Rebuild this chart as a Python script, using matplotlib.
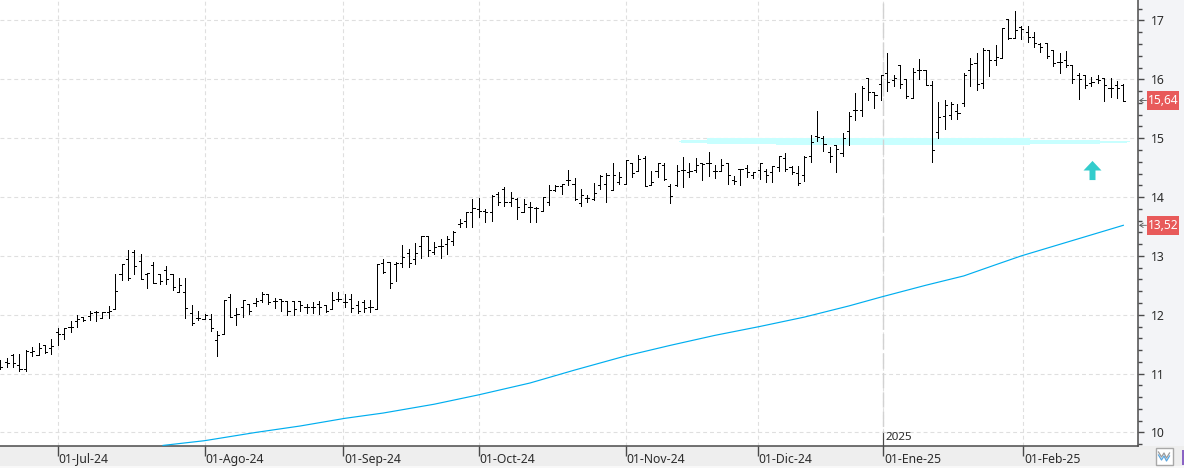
import matplotlib
matplotlib.use('Agg')
import matplotlib.pyplot as plt
from matplotlib.patches import Rectangle
from matplotlib.lines import Line2D
from matplotlib.ticker import MultipleLocator
from matplotlib.path import Path

W, H = 1184, 468
plt.rcParams['font.family'] = ['Noto Sans', 'DejaVu Sans']

#OHLC, one value per session
opens = [11.20, 11.20, 11.32, 11.14, 11.07, 11.37, 11.31, 11.49, 11.43, 11.71,
         11.67, 11.79, 11.90, 11.97, 11.98, 12.05, 11.94, 12.04, 12.09, 12.69,
         12.94, 13.06, 12.92, 12.70, 12.85, 12.70, 12.76, 12.70, 12.39, 12.39,
         12.03, 11.94, 11.93, 11.93, 11.57, 11.67, 12.30, 11.99, 12.13, 12.19,
         12.20, 12.25, 12.35, 12.23, 12.26, 12.24, 12.24, 12.23, 12.13, 12.13,
         12.19, 12.17, 12.09, 12.26, 12.21, 12.27, 12.16, 12.22, 12.14, 12.09,
         12.88, 12.89, 12.86, 12.88, 13.05, 12.95, 13.17, 13.33, 13.07, 13.16,
         13.21, 13.25, 13.55, 13.60, 13.75, 13.80, 13.76, 13.75, 14.06, 14.14,
         13.92, 13.97, 13.74, 13.83, 13.81, 13.76, 13.92, 14.12, 14.19, 14.29,
         14.23, 13.90, 13.98, 13.96, 14.21, 14.23, 14.12, 14.25, 14.23, 14.57,
         14.45, 14.67, 14.20, 14.45, 14.54, 14.18, 14.21, 14.46, 14.43, 14.46,
         14.58, 14.57, 14.44, 14.44, 14.57, 14.29, 14.48, 14.50, 14.37, 14.46,
         14.45, 14.42, 14.51, 14.66, 14.51, 14.41, 14.38, 14.69, 15.03, 15.00,
         14.76, 14.89, 14.75, 15.12, 15.48, 15.48, 16.03, 15.78, 15.92, 16.10,
         15.99, 16.24, 16.00, 15.69, 16.16, 16.16, 15.90, 15.11, 15.37, 15.40,
         15.47, 15.59, 16.16, 16.27, 15.93, 16.50, 16.33, 16.36, 17.02, 16.71,
         16.89, 16.80, 16.72, 16.60, 16.61, 16.50, 16.30, 16.33, 16.24, 16.07,
         16.07, 15.93, 16.00, 16.02, 15.86, 15.90, 15.90]
highs = [11.23, 11.26, 11.33, 11.33, 11.40, 11.46, 11.52, 11.49, 11.58, 11.78,
         11.78, 11.90, 11.99, 11.97, 12.07, 12.07, 12.04, 12.15, 12.69, 12.87,
         13.10, 13.10, 13.03, 12.71, 12.89, 12.70, 12.82, 12.70, 12.63, 12.63,
         12.16, 12.06, 12.01, 12.01, 11.73, 12.25, 12.36, 12.12, 12.25, 12.19,
         12.29, 12.38, 12.35, 12.29, 12.26, 12.24, 12.24, 12.24, 12.19, 12.21,
         12.23, 12.17, 12.38, 12.38, 12.35, 12.35, 12.23, 12.25, 12.25, 12.86,
         12.94, 12.89, 12.89, 13.19, 13.12, 13.22, 13.33, 13.33, 13.24, 13.29,
         13.33, 13.42, 13.63, 13.75, 13.97, 13.98, 13.80, 14.04, 14.08, 14.17,
         14.08, 13.98, 13.97, 13.92, 13.83, 14.00, 14.21, 14.21, 14.22, 14.46,
         14.33, 14.14, 14.03, 14.24, 14.37, 14.41, 14.58, 14.43, 14.63, 14.57,
         14.72, 14.69, 14.45, 14.58, 14.58, 14.23, 14.55, 14.68, 14.58, 14.66,
         14.58, 14.77, 14.55, 14.64, 14.57, 14.36, 14.48, 14.55, 14.43, 14.58,
         14.48, 14.53, 14.70, 14.75, 14.53, 14.53, 14.69, 15.06, 15.46, 15.03,
         14.85, 14.89, 15.08, 15.45, 15.76, 15.89, 16.03, 15.78, 16.07, 16.44,
         16.07, 16.24, 16.00, 16.20, 16.34, 16.16, 15.98, 15.62, 15.65, 15.61,
         15.58, 16.10, 16.36, 16.44, 16.54, 16.50, 16.58, 16.88, 17.02, 17.16,
         16.90, 16.90, 16.80, 16.61, 16.61, 16.50, 16.44, 16.48, 16.25, 16.10,
         16.07, 16.04, 16.07, 16.03, 16.02, 15.98, 15.92]
lows = [11.08, 11.12, 11.12, 11.05, 11.04, 11.30, 11.31, 11.35, 11.34, 11.48,
        11.58, 11.70, 11.79, 11.90, 11.91, 11.90, 11.94, 11.95, 12.09, 12.59,
        12.59, 12.70, 12.60, 12.46, 12.54, 12.53, 12.53, 12.42, 12.39, 11.94,
        11.83, 11.91, 11.92, 11.73, 11.30, 11.67, 11.96, 11.83, 11.96, 12.01,
        12.15, 12.21, 12.18, 12.11, 12.07, 12.00, 12.00, 12.07, 12.03, 12.03,
        12.02, 12.05, 12.09, 12.23, 12.13, 12.05, 12.03, 12.05, 12.05, 12.09,
        12.71, 12.46, 12.58, 12.81, 12.81, 12.87, 12.97, 12.99, 13.03, 12.96,
        13.03, 13.18, 13.49, 13.49, 13.49, 13.66, 13.57, 13.60, 13.87, 13.84,
        13.84, 13.62, 13.74, 13.57, 13.57, 13.76, 13.86, 14.10, 14.06, 14.20,
        13.95, 13.85, 13.92, 13.95, 14.13, 13.92, 14.12, 14.23, 14.23, 14.34,
        14.45, 14.19, 14.20, 14.34, 14.29, 13.90, 14.19, 14.17, 14.34, 14.43,
        14.29, 14.36, 14.32, 14.44, 14.23, 14.23, 14.20, 14.34, 14.32, 14.30,
        14.25, 14.25, 14.44, 14.45, 14.40, 14.21, 14.28, 14.59, 14.96, 14.79,
        14.59, 14.42, 14.69, 14.89, 15.31, 15.37, 15.65, 15.52, 15.65, 15.81,
        15.88, 15.86, 15.69, 15.68, 16.00, 15.90, 14.59, 15.01, 15.15, 15.32,
        15.32, 15.54, 15.89, 15.82, 15.86, 16.06, 16.24, 16.36, 16.68, 16.71,
        16.68, 16.63, 16.55, 16.47, 16.37, 16.23, 16.11, 16.21, 15.94, 15.67,
        15.86, 15.89, 15.93, 15.64, 15.70, 15.69, 15.64]
closes = [11.12, 11.18, 11.18, 11.08, 11.39, 11.39, 11.43, 11.37, 11.47, 11.67,
          11.78, 11.79, 11.93, 11.91, 12.03, 12.04, 12.04, 12.07, 12.41, 12.87,
          12.63, 12.83, 12.60, 12.71, 12.54, 12.58, 12.61, 12.47, 12.50, 12.11,
          11.86, 11.94, 12.00, 11.78, 11.66, 12.25, 11.97, 12.02, 12.25, 12.07,
          12.23, 12.36, 12.21, 12.23, 12.23, 12.07, 12.09, 12.17, 12.14, 12.13,
          12.13, 12.07, 12.25, 12.26, 12.21, 12.12, 12.07, 12.12, 12.14, 12.86,
          12.72, 12.54, 12.88, 12.98, 12.88, 13.05, 13.33, 13.10, 13.15, 13.16,
          13.29, 13.40, 13.56, 13.75, 13.81, 13.77, 13.75, 14.02, 13.91, 13.91,
          13.99, 13.83, 13.88, 13.83, 13.81, 14.00, 14.12, 14.18, 14.22, 14.29,
          13.96, 14.03, 13.98, 14.07, 14.36, 14.37, 14.38, 14.34, 14.63, 14.41,
          14.64, 14.19, 14.26, 14.58, 14.30, 14.01, 14.45, 14.46, 14.45, 14.54,
          14.56, 14.58, 14.45, 14.55, 14.37, 14.27, 14.48, 14.42, 14.42, 14.58,
          14.38, 14.53, 14.69, 14.47, 14.42, 14.24, 14.68, 14.93, 15.02, 14.90,
          14.69, 14.81, 15.01, 15.38, 15.48, 15.86, 15.78, 15.73, 16.07, 15.95,
          16.02, 15.92, 15.71, 16.12, 16.16, 15.90, 14.80, 15.36, 15.56, 15.58,
          15.42, 16.08, 16.26, 15.92, 16.50, 16.33, 16.38, 16.88, 16.71, 16.84,
          16.86, 16.72, 16.61, 16.55, 16.40, 16.27, 16.30, 16.25, 16.00, 16.01,
          15.90, 15.95, 15.99, 15.90, 15.86, 15.86, 15.64]

#long moving average
ma_idx = [25.5, 32, 40, 47, 54, 60, 68, 75, 83, 90, 98, 105, 112, 119, 126, 133, 138, 145, 151, 156, 160, 168, 176]
ma_val = [9.78, 9.86, 10.00, 10.11, 10.24, 10.33, 10.48, 10.64, 10.84, 11.06, 11.30,
          11.48, 11.65, 11.80, 11.96, 12.15, 12.30, 12.50, 12.66, 12.85, 13.00, 13.26, 13.52]

#support band, stepped
band_idx = [106.3, 106.7, 110.8, 121.6, 161.4, 172.3, 176.5, 177.1]
band_top = [14.95, 14.97, 15.00, 15.00, 14.97, 14.96, 14.95]
band_bot = [14.94, 14.92, 14.90, 14.88, 14.905, 14.92, 14.94]

month_pos = [9.0, 32.0, 53.7, 74.95, 98.0, 118.7, 138.4, 160.3]
month_labels = ['01-Jul-24', '01-Ago-24', '01-Sep-24', '01-Oct-24', '01-Nov-24', '01-Dic-24', '01-Ene-25', '01-Feb-25']
year_pos = 138.4
year_label = '2025'
y_ticks = [10, 11, 12, 13, 14, 15, 16, 17]

arrow_idx = 171.1
arrow_price = 14.46

def px(x, y):
    return x / W, 1 - y / H

fig = plt.figure(figsize=(W / 100, H / 100), dpi=100, facecolor='#f8f8f8')
ax = fig.add_axes([0, 1 - 446 / H, 1138 / W, 446 / H], facecolor='white')
ax.set_xlim(-0.05, 178.3)
ax.set_ylim(9.77, 17.348)

#panels around the plot
fig.add_artist(Rectangle(px(1138, 446), 46 / W, 446 / H, transform=fig.transFigure, fc='#f3f4f7', ec='none', zorder=-5))
fig.add_artist(Rectangle(px(0, 466), 1, 20 / H, transform=fig.transFigure, fc='#eeeeee', ec='none', zorder=-5))

ax.grid(True, which='major', color='#dfdfdf', lw=0.8, ls=(0, (3.5, 2.7)))
ax.set_axisbelow(True)

for s in ['top', 'left']:
    ax.spines[s].set_visible(False)
for s in ['right', 'bottom']:
    ax.spines[s].set_color('#4a4a4a')
    ax.spines[s].set_linewidth(1.1)

ax.fill_between(band_idx, band_top + [band_top[-1]], band_bot + [band_bot[-1]],
                step='post', color='#c8ffff', lw=0, zorder=1.5)

#year separator
ax.axvline(year_pos, color='#d2d2d2', lw=1.0, ls=(0, (11, 3)), zorder=1.8)

idx = list(range(len(closes)))
ax.vlines(idx, lows, highs, color='black', lw=0.7, antialiased=False, zorder=3)
ax.hlines(opens, [i - 0.33 for i in idx], idx, color='black', lw=0.7, antialiased=False, zorder=3)
ax.hlines(closes, idx, [i + 0.33 for i in idx], color='black', lw=0.7, antialiased=False, zorder=3)

ax.plot(ma_idx, ma_val, color='#00aeef', lw=0.85, zorder=3)

#up arrow marker
arrow = Path([(0, 8), (7.5, 0), (2.5, 0), (2.5, -8), (-2.5, -8), (-2.5, 0), (-7.5, 0), (0, 8)], closed=True)
ax.scatter([arrow_idx], [arrow_price], marker=arrow, s=190, color='#33cccc', lw=0, zorder=4)

ax.yaxis.tick_right()
ax.set_yticks(y_ticks)
ax.yaxis.set_minor_locator(MultipleLocator(0.2))
ax.tick_params(axis='y', which='major', length=4.5, width=1, color='#4a4a4a', pad=4.5, labelsize=8.8, labelcolor='#2b2b2b')
ax.tick_params(axis='y', which='minor', length=3, width=1, color='#4a4a4a')

ax.set_xticks(month_pos)
ax.set_xticklabels(month_labels, ha='left')
ax.tick_params(axis='x', length=7.2, width=1, color='#4a4a4a', pad=-2.5, labelsize=8.8, labelcolor='#2b2b2b')
for lbl in ax.get_xticklabels():
    lbl.set_transform(lbl.get_transform() + matplotlib.transforms.ScaledTranslation(1.0 / 100, 0, fig.dpi_scale_trans))

ax.plot([year_pos, year_pos], [0, 13 / 446], transform=ax.get_xaxis_transform(), color='#4a4a4a', lw=0.8, clip_on=False, zorder=5)
ax.text(year_pos + 0.3, 9.91, year_label, fontsize=8.4, color='#2b2b2b', va='center', ha='left')

#last value flags
for price, label in [(closes[-1], '15,64'), (ma_val[-1], '13,52')]:
    trans = ax.get_yaxis_transform()
    ax.add_patch(Rectangle((1147.3 / 1138, price - 9.5 / 58.85), 32 / 1138, 19 / 58.85, transform=trans,
                           fc='#e85a5a', ec='none', clip_on=False, zorder=6))
    ax.text(1163.3 / 1138, price, label, transform=trans, color='white', fontsize=8.6, ha='center', va='center', zorder=7)
    ax.annotate('', xy=(1139 / 1138, price), xycoords=trans, xytext=(1146.5 / 1138, price), textcoords=trans,
                arrowprops=dict(arrowstyle='->,head_width=0.16,head_length=0.25', color='#555555', lw=0.6, shrinkA=0, shrinkB=0))

#toolbar buttons at the corner
x0, y0 = px(1156, 464.5)
fig.add_artist(Rectangle((x0, y0), 16.5 / W, 16.5 / H, transform=fig.transFigure, fc='white', ec='#a8a8a8', lw=1))
for off, col in [(0, '#9a9a9a'), (3, '#5aa6e0')]:
    zx = [1158.5, 1161.5, 1164, 1166.5, 1169.5]
    zy = [452 + off, 457 + off, 453 + off, 458 + off, 453 + off]
    fig.add_artist(Line2D([x / W for x in zx], [1 - y / H for y in zy], transform=fig.transFigure, color=col, lw=0.9))
x0, y0 = px(1182, 464.5)
fig.add_artist(Rectangle((x0, y0), 2 / W, 14.5 / H, transform=fig.transFigure, fc='#8a63c4', ec='none'))

fig.savefig('out.png', dpi=100, facecolor=fig.get_facecolor())
